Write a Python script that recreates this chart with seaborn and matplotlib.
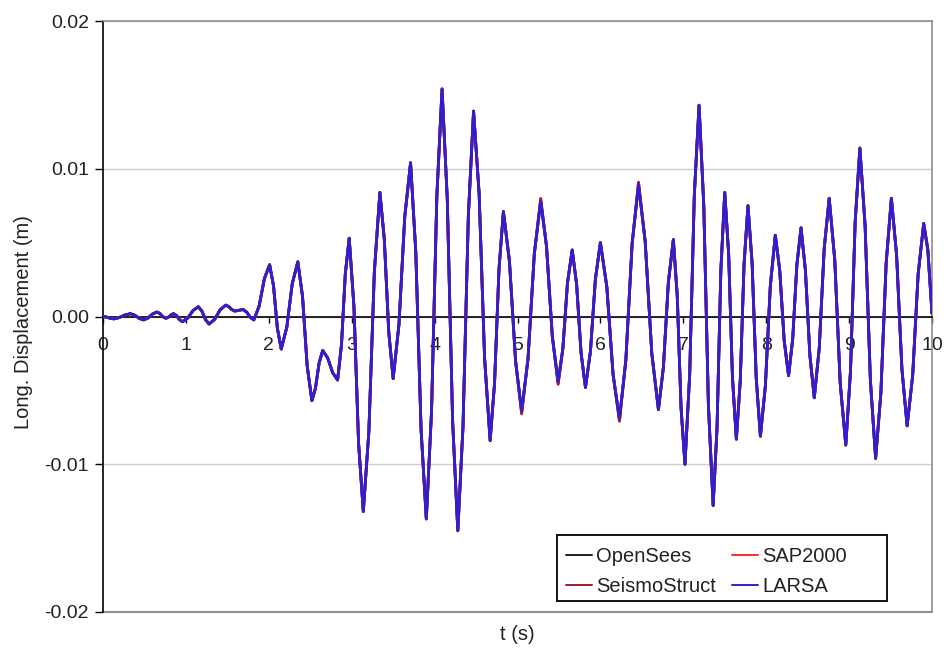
import numpy as np
import pandas as pd
import matplotlib
matplotlib.use("Agg")
import matplotlib.pyplot as plt
from matplotlib.patches import Rectangle
import seaborn as sns

# ---- data ----
time_s = [
    0.000, 0.043, 0.087, 0.130, 0.197, 0.263, 0.330, 0.383, 0.437, 0.490,
    0.543, 0.597, 0.650, 0.687, 0.723, 0.760, 0.790, 0.820, 0.850, 0.887,
    0.923, 0.960, 1.023, 1.087, 1.150, 1.193, 1.237, 1.280, 1.347, 1.413,
    1.480, 1.517, 1.553, 1.590, 1.623, 1.657, 1.690, 1.733, 1.777, 1.820,
    1.883, 1.947, 2.010, 2.057, 2.103, 2.150, 2.217, 2.283, 2.350, 2.407,
    2.463, 2.520, 2.563, 2.607, 2.650, 2.710, 2.770, 2.830, 2.877, 2.923,
    2.970, 3.027, 3.083, 3.140, 3.207, 3.273, 3.340, 3.393, 3.447, 3.500,
    3.570, 3.640, 3.710, 3.773, 3.837, 3.900, 3.963, 4.027, 4.090, 4.153,
    4.217, 4.280, 4.343, 4.407, 4.470, 4.537, 4.603, 4.670, 4.723, 4.777,
    4.830, 4.903, 4.977, 5.050, 5.127, 5.203, 5.280, 5.350, 5.420, 5.490,
    5.547, 5.603, 5.660, 5.713, 5.767, 5.820, 5.880, 5.940, 6.000, 6.077,
    6.153, 6.230, 6.307, 6.383, 6.460, 6.540, 6.620, 6.700, 6.760, 6.820,
    6.880, 6.927, 6.973, 7.020, 7.077, 7.133, 7.190, 7.247, 7.303, 7.360,
    7.407, 7.453, 7.500, 7.547, 7.593, 7.640, 7.687, 7.733, 7.780, 7.830,
    7.880, 7.930, 7.990, 8.050, 8.110, 8.163, 8.217, 8.270, 8.320, 8.370,
    8.420, 8.473, 8.527, 8.580, 8.640, 8.700, 8.760, 8.827, 8.893, 8.960,
    9.017, 9.073, 9.130, 9.193, 9.257, 9.320, 9.383, 9.447, 9.510, 9.573,
    9.637, 9.700, 9.767, 9.833, 9.900, 9.950, 10.000,
]

larsa_mm = [
    0.00, -0.04, -0.12, -0.16, -0.07, 0.10, 0.19, 0.09, -0.13, -0.23,
    -0.10, 0.17, 0.30, 0.20, -0.02, -0.12, -0.04, 0.11, 0.19, 0.06,
    -0.22, -0.35, -0.10, 0.41, 0.66, 0.37, -0.22, -0.51, -0.19, 0.45,
    0.77, 0.67, 0.47, 0.37, 0.40, 0.44, 0.47, 0.30, -0.06, -0.23,
    0.70, 2.57, 3.50, 2.08, -0.78, -2.20, -0.73, 2.23, 3.70, 1.35,
    -3.35, -5.70, -4.85, -3.15, -2.30, -2.80, -3.80, -4.30, -1.90, 2.90,
    5.30, 0.68, -8.58, -13.20, -7.80, 3.00, 8.40, 5.25, -1.05, -4.20,
    -0.55, 6.75, 10.40, 4.38, -7.68, -13.70, -6.43, 8.13, 15.40, 7.93,
    -7.03, -14.50, -7.40, 6.80, 13.90, 8.33, -2.83, -8.40, -4.53, 3.23,
    7.10, 3.73, -3.03, -6.40, -2.85, 4.25, 7.80, 4.75, -1.35, -4.40,
    -2.18, 2.28, 4.50, 2.18, -2.48, -4.80, -2.35, 2.55, 5.00, 2.03,
    -3.93, -6.90, -2.95, 4.95, 8.90, 5.10, -2.50, -6.30, -3.43, 2.33,
    5.20, 1.40, -6.20, -10.00, -3.93, 8.23, 14.30, 7.53, -6.03, -12.80,
    -7.50, 3.10, 8.40, 4.23, -4.13, -8.30, -4.35, 3.55, 7.50, 3.60,
    -4.20, -8.10, -4.70, 2.10, 5.50, 3.13, -1.63, -4.00, -1.50, 3.50,
    6.00, 3.13, -2.63, -5.50, -2.13, 4.63, 8.00, 3.83, -4.53, -8.70,
    -3.68, 6.38, 11.40, 6.15, -4.35, -9.60, -5.20, 3.60, 8.00, 4.15,
    -3.55, -7.40, -3.98, 2.88, 6.30, 4.50, 0.20,
]

# peaks where the SAP2000 / SeismoStruct curves poke out from under LARSA (time s -> mm)
sap2000_peaks_mm = {5.050: -6.6, 5.280: 8.0, 5.490: -4.6, 6.230: -7.1, 6.460: 9.1}
seismostruct_peaks_mm = {5.050: -6.55, 5.280: 7.95, 5.490: -4.55, 6.230: -7.05, 6.460: 9.05}

series_names = ["OpenSees", "SAP2000", "SeismoStruct", "LARSA"]
series_colors = ["#202020", "#FF2A2A", "#A01830", "#2E1FD4"]

x_ticks = list(range(0, 11))
x_tick_labels = [str(v) for v in x_ticks]
y_ticks = [0.02, 0.01, 0.0, -0.01, -0.02]
y_tick_labels = ["0.02", "0.01", "0.00", "-0.01", "-0.02"]

# ---- build long table ----
def with_peaks(base, peaks):
    return [peaks.get(t, v) for t, v in zip(time_s, base)]

values_mm = {
    "OpenSees": larsa_mm,
    "SAP2000": with_peaks(larsa_mm, sap2000_peaks_mm),
    "SeismoStruct": with_peaks(larsa_mm, seismostruct_peaks_mm),
    "LARSA": larsa_mm,
}
frames = []
for name in series_names:
    frames.append(pd.DataFrame({
        "t": time_s,
        "disp": np.array(values_mm[name]) / 1000.0,
        "program": name,
    }))
df = pd.concat(frames, ignore_index=True)

# ---- style ----
sns.set_style("white")
plt.rcParams["font.family"] = ["Liberation Sans", "DejaVu Sans"]
plt.rcParams["axes.unicode_minus"] = False

fig = plt.figure(figsize=(9.49, 6.5), dpi=100)
W, H = 949.0, 650.0
AX_L, AX_R, AX_T, AX_B = 103, 932, 21, 612
ax = fig.add_axes([AX_L / W, 1 - AX_B / H, (AX_R - AX_L) / W, (AX_B - AX_T) / H])

def px_to_axes(px, py):
    return ((px - AX_L) / (AX_R - AX_L), (AX_B - py) / (AX_B - AX_T))

palette = dict(zip(series_names, series_colors))
sns.lineplot(data=df, x="t", y="disp", hue="program", hue_order=series_names,
             palette=palette, linewidth=2.0, sort=False, estimator=None,
             ax=ax, zorder=3)

ax.set_xlim(0, 10)
ax.set_ylim(-0.02, 0.02)
ax.set_xticks(x_ticks)
ax.set_xticklabels(x_tick_labels)
ax.set_yticks(y_ticks)
ax.set_yticklabels(y_tick_labels)

border_gray = "#8f8f8f"
grid_gray = "#cfcfcf"
ax.yaxis.grid(True, color=grid_gray, linewidth=1.0)
ax.xaxis.grid(False)
ax.set_axisbelow(True)

for s in ["top", "right"]:
    ax.spines[s].set_color(border_gray)
    ax.spines[s].set_linewidth(1.2)
ax.spines["left"].set_color("black")
ax.spines["left"].set_linewidth(1.2)
ax.spines["bottom"].set_position(("data", 0))
ax.spines["bottom"].set_color("black")
ax.spines["bottom"].set_linewidth(1.2)
ax.spines["bottom"].set_zorder(2.5)
ax.axhline(-0.02, color=border_gray, linewidth=1.5, clip_on=False, zorder=1)

ax.tick_params(axis="x", direction="out", length=4, width=1, pad=11,
               labelsize=14, colors="black", bottom=True)
ax.tick_params(axis="y", direction="out", length=6, width=1, pad=4,
               labelsize=14, colors="black", left=True)
for lab in ax.get_xticklabels() + ax.get_yticklabels():
    lab.set_color("#222222")

ax.set_ylabel("Long. Displacement (m)", fontsize=14.5, color="#222222")
ax.yaxis.set_label_coords(-0.084, 0.49)
ax.set_xlabel("t (s)", fontsize=14.5, color="#222222")
ax.xaxis.set_label_coords(0.5, -0.022)

# ---- legend (row order: OpenSees, SAP2000 / SeismoStruct, LARSA) ----
old = ax.get_legend()
handles = list(old.legend_handles)
labels = [t.get_text() for t in old.get_texts()]
old.remove()
lookup = dict(zip(labels, handles))
order = ["OpenSees", "SeismoStruct", "SAP2000", "LARSA"]

# legend box drawn as in the reference (Excel style, extra room on the right)
bx0, by1 = px_to_axes(557, 601)
bx1, by0 = px_to_axes(887, 535)
ax.add_patch(Rectangle((bx0, by1), bx1 - bx0, by0 - by1, transform=ax.transAxes,
                       facecolor="white", edgecolor="black", linewidth=1.3,
                       zorder=4, clip_on=False))

ax_anchor = px_to_axes(566, 547)
leg = ax.legend([lookup[k] for k in order], order, loc="upper left",
                bbox_to_anchor=ax_anchor, ncol=2, fontsize=14.5,
                frameon=False, borderpad=0.0, handlelength=1.3, handletextpad=0.2,
                columnspacing=0.8, labelspacing=0.55, borderaxespad=0.0)
leg.set_zorder(5)
for h in leg.legend_handles:
    h.set_linewidth(1.4)
for t in leg.get_texts():
    t.set_color("#222222")

fig.savefig("out.png", dpi=100)
